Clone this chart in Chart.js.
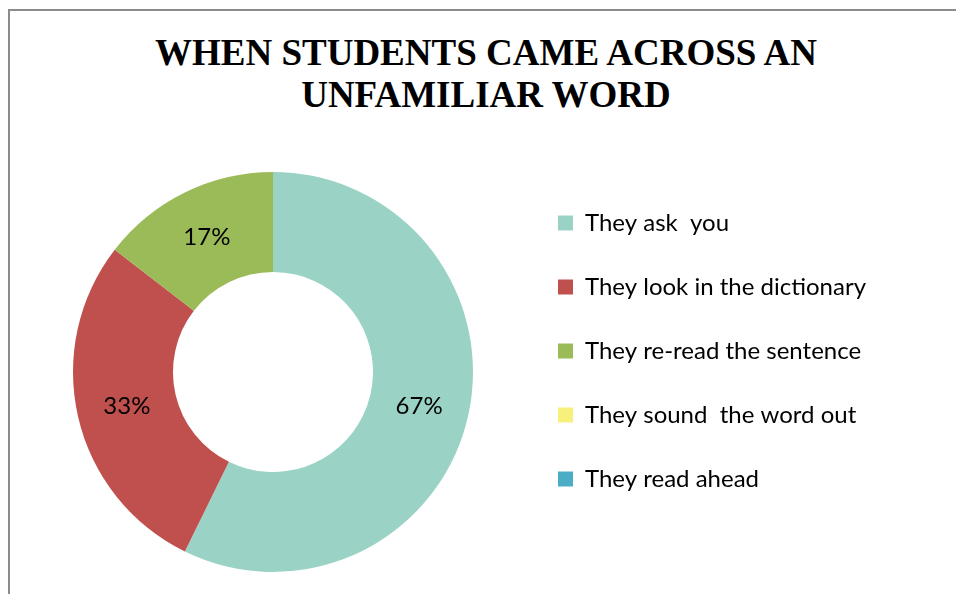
<!DOCTYPE html>
<html>
<head>
<meta charset="utf-8">
<script src="https://cdn.jsdelivr.net/npm/chart.js@4.4.1/dist/chart.umd.min.js"></script>
<style>
  html, body { margin: 0; padding: 0; background: #fff; overflow: hidden; }
  #frame {
    position: absolute; left: 8px; top: 9px;
    border-left: 2px solid #8c8c8c; border-top: 2px solid #8c8c8c;
    width: 970px; height: 600px;
  }
  #title {
    position: absolute; left: 0; top: 32px; width: 972px;
    text-align: center; color: #000;
    font: bold 37px/42px "Liberation Serif", "Times New Roman", serif;
  }
  #chart { position: absolute; left: 10px; top: 11px; }
</style>
</head>
<body>
<div id="frame"></div>
<div id="title"></div>
<canvas id="chart" width="952" height="590"></canvas>
<script>
const titleLines = ['WHEN STUDENTS CAME ACROSS AN', 'UNFAMILIAR WORD'];
const answers = ['They ask  you', 'They look in the dictionary', 'They re-read the sentence', 'They sound  the word out', 'They read ahead'];
const percents = [67, 33, 17, 0, 0];
const sliceColors = ['#9AD3C6', '#C0504D', '#9BBB59', '#F7F07A', '#4BACC6'];

const legendFont = { family: 'Lato, "Open Sans", sans-serif', size: 24 };
const legendPad = 40;

document.getElementById('title').innerHTML = titleLines.join('<br>');

// widest legend entry decides how much room the legend takes on the right
const measure = document.createElement('canvas').getContext('2d');
measure.font = legendFont.size + 'px ' + legendFont.family;
const widest = Math.max(...answers.map(a => measure.measureText(a).width));
const rightPad = 367 - widest;

// percent labels sit half-way through each ring segment
const sliceLabels = {
  id: 'sliceLabels',
  afterDatasetsDraw(chart) {
    const ctx = chart.ctx;
    const meta = chart.getDatasetMeta(0);
    ctx.save();
    ctx.font = '24px ' + legendFont.family;
    ctx.fillStyle = '#000';
    ctx.textAlign = 'center';
    ctx.textBaseline = 'middle';
    meta.data.forEach((arc, i) => {
      const v = chart.data.datasets[0].data[i];
      if (!v) return;
      const p = arc.getCenterPoint();
      ctx.fillText(v + '%', p.x, p.y);
    });
    ctx.restore();
  }
};

new Chart(document.getElementById('chart'), {
  type: 'doughnut',
  data: {
    labels: answers,
    datasets: [{
      data: percents,
      backgroundColor: sliceColors,
      borderWidth: 0
    }]
  },
  options: {
    responsive: false,
    animation: false,
    radius: 200,
    cutout: '50%',
    layout: { padding: { left: 18, right: rightPad, top: 160, bottom: 28 } },
    plugins: {
      title: { display: false },
      legend: {
        position: 'right',
        align: 'start',
        fullSize: false,
        labels: {
          color: '#000',
          font: legendFont,
          boxWidth: 15,
          boxHeight: 15,
          padding: legendPad
        }
      },
      tooltip: { enabled: false }
    }
  },
  plugins: [sliceLabels]
});
</script>
</body>
</html>
